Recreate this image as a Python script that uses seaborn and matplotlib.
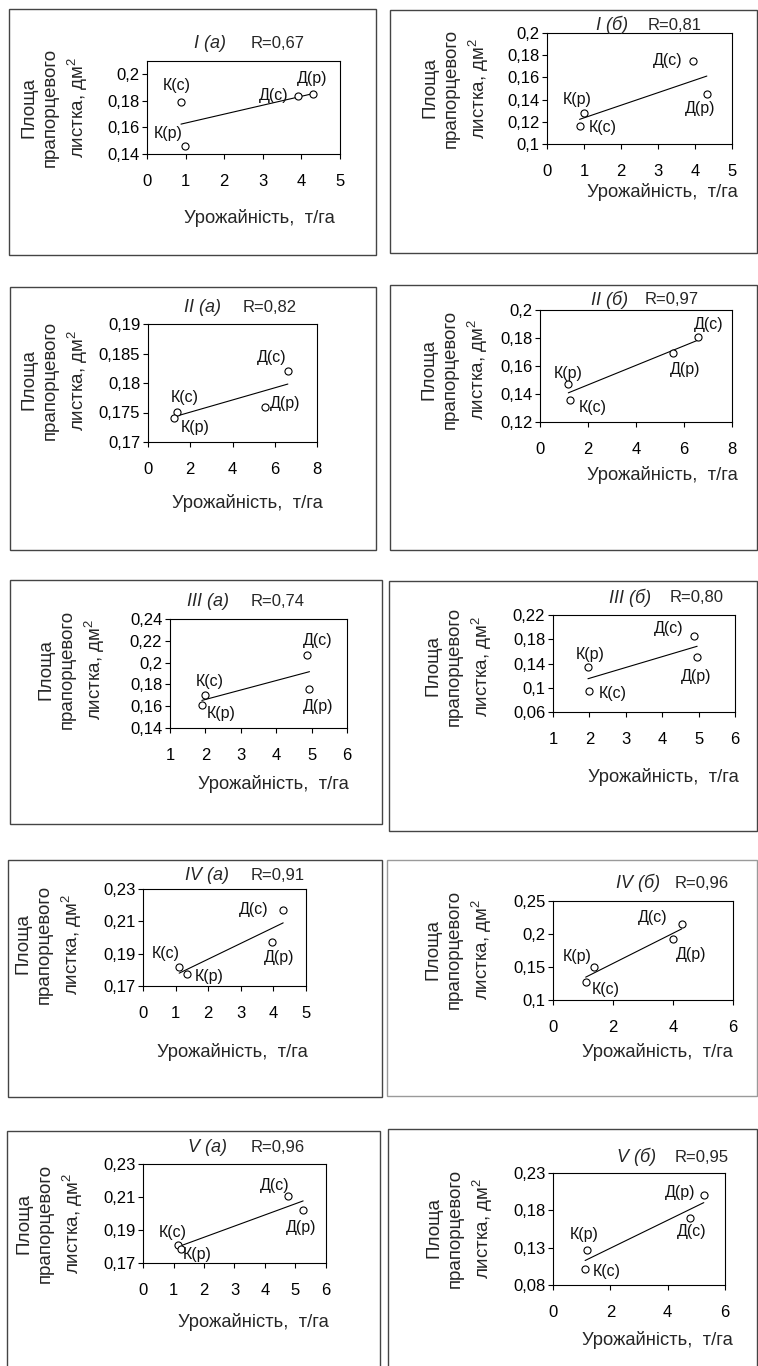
import numpy as np
import pandas as pd
import matplotlib
matplotlib.use("Agg")
import matplotlib.pyplot as plt
import seaborn as sns
from matplotlib.patches import Rectangle

# ---------------- data ----------------
point_labels = ["К(с)", "К(р)", "Д(с)", "Д(р)"]

panel_titles = ["I (а)", "I (б)", "II (а)", "II (б)", "III (а)",
                "III (б)", "IV (а)", "IV (б)", "V (а)", "V (б)"]
r_texts = ["R=0,67", "R=0,81", "R=0,82", "R=0,97", "R=0,74",
           "R=0,80", "R=0,91", "R=0,96", "R=0,96", "R=0,95"]

# yield (t/ha) and flag-leaf area (dm^2), order: К(с), К(р), Д(с), Д(р)
I_a_yield = [0.88, 0.98, 3.90, 4.29]
I_a_area = [0.179, 0.146, 0.184, 0.1848]
I_b_yield = [0.88, 1.00, 3.95, 4.32]
I_b_area = [0.116, 0.128, 0.175, 0.145]
II_a_yield = [1.35, 1.22, 6.62, 5.56]
II_a_area = [0.1751, 0.1741, 0.182, 0.1760]
II_b_yield = [1.25, 1.18, 6.60, 5.55]
II_b_area = [0.1355, 0.147, 0.1805, 0.169]
III_a_yield = [1.98, 1.90, 4.86, 4.94]
III_a_area = [0.170, 0.161, 0.207, 0.176]
III_b_yield = [1.99, 1.96, 4.87, 4.96]
III_b_area = [0.095, 0.1345, 0.185, 0.151]
IV_a_yield = [1.11, 1.36, 4.30, 3.97]
IV_a_area = [0.1815, 0.1775, 0.2172, 0.197]
IV_b_yield = [1.09, 1.36, 4.29, 3.99]
IV_b_area = [0.127, 0.150, 0.215, 0.192]
V_a_yield = [1.15, 1.24, 4.76, 5.25]
V_a_area = [0.181, 0.1785, 0.2104, 0.2023]
V_b_yield = [1.12, 1.17, 4.77, 5.26]
V_b_area = [0.101, 0.127, 0.170, 0.200]

yields = [I_a_yield, I_b_yield, II_a_yield, II_b_yield, III_a_yield,
          III_b_yield, IV_a_yield, IV_b_yield, V_a_yield, V_b_yield]
areas = [I_a_area, I_b_area, II_a_area, II_b_area, III_a_area,
         III_b_area, IV_a_area, IV_b_area, V_a_area, V_b_area]

# axis ticks (tick labels)
x_ticks = [[0, 1, 2, 3, 4, 5], [0, 1, 2, 3, 4, 5], [0, 2, 4, 6, 8], [0, 2, 4, 6, 8],
           [1, 2, 3, 4, 5, 6], [1, 2, 3, 4, 5, 6], [0, 1, 2, 3, 4, 5], [0, 2, 4, 6],
           [0, 1, 2, 3, 4, 5, 6], [0, 2, 4, 6]]
y_ticks = [[0.14, 0.16, 0.18, 0.2], [0.1, 0.12, 0.14, 0.16, 0.18, 0.2],
           [0.17, 0.175, 0.18, 0.185, 0.19], [0.12, 0.14, 0.16, 0.18, 0.2],
           [0.14, 0.16, 0.18, 0.2, 0.22, 0.24], [0.06, 0.1, 0.14, 0.18, 0.22],
           [0.17, 0.19, 0.21, 0.23], [0.1, 0.15, 0.2, 0.25],
           [0.17, 0.19, 0.21, 0.23], [0.08, 0.13, 0.18, 0.23]]
y_top = [0.21, 0.2, 0.19, 0.2, 0.24, 0.22, 0.23, 0.25, 0.23, 0.23]

x_label = "Урожайність,  т/га"
y_label = "Площа\nпрапорцевого\nлистка, дм$^2$"

# ---------------- layout (pixels) ----------------
W, H = 758, 1366
axes_px = [(147, 61, 340, 154), (547, 33, 732, 144), (148, 324, 317, 442), (540, 310, 732, 422),
           (170, 619, 347, 728), (553, 615, 735, 712), (143, 889, 306, 986), (553, 901, 733, 1000),
           (143, 1164, 326, 1263), (553, 1173, 725, 1285)]
frame_px = [(9, 9, 376, 255), (390, 10, 757, 253), (10, 287, 376, 550), (390, 285, 757, 550),
            (10, 580, 382, 824), (389, 581, 757, 831), (8, 860, 382, 1097), (387, 860, 757, 1096),
            (7, 1131, 380, 1372), (388, 1129, 757, 1372)]
frame_col = ["#444444"] * 7 + ["#9a9a9a"] + ["#444444"] * 2
title_px = [(210, 43), (612, 25), (203, 307), (610, 300), (208, 602),
            (630, 598), (207, 875), (638, 883), (207, 1147), (637, 1157)]
r_px = [(278, 43), (675, 25), (270, 307), (672, 300), (278, 602),
        (697, 598), (278, 875), (702, 883), (278, 1147), (702, 1157)]
xlab_px = [(259, 218), (662, 192), (247, 503), (662, 475), (273, 784),
           (663, 777), (232, 1052), (657, 1052), (253, 1322), (657, 1340)]
ylab_px = [(55, 107), (456, 88), (55, 380), (455, 369), (72, 669),
           (459, 666), (49, 944), (459, 949), (50, 1223), (460, 1228)]
# label offsets (px, y downward), order К(с), К(р), Д(с), Д(р)
offs = [[(-4, -17), (-17, -13), (-24, 0), (0, -16)],
        [(23, 1), (-7, -13), (-25, 0), (-7, 14)],
        [(8, -14), (21, 10), (-16, -14), (20, -3)],
        [(23, 7), (0, -11), (10, -13), (12, 16)],
        [(5, -14), (19, 8), (11, -14), (9, 18)],
        [(24, 3), (2, -12), (-25, -8), (-1, 20)],
        [(-13, -14), (22, 3), (-29, 0), (7, 15)],
        [(20, 7), (-17, -10), (-29, -7), (18, 15)],
        [(-5, -12), (16, 6), (-13, -11), (-2, 18)],
        [(22, 2), (-2, -15), (2, 14), (-24, -3)]]

TICK_FS = 12
PT_FS = 11.5
YLAB_FS = 13.5
YLAB_LS = 1.38
XLAB_FS = 13.2
TITLE_FS = 13
R_FS = 12

sns.set_theme(style="white")
plt.rcParams["font.family"] = ["Liberation Sans", "DejaVu Sans"]
plt.rcParams["mathtext.fontset"] = "custom"
plt.rcParams["mathtext.rm"] = "Liberation Sans"
plt.rcParams["mathtext.it"] = "Liberation Sans:italic"

fig = plt.figure(figsize=(W / 100, H / 100), dpi=100)
fig.patch.set_facecolor("white")


def fmt(v):
    return ("%g" % v).replace(".", ",")


for i in range(10):
    l, t, r, b = axes_px[i]
    ax = fig.add_axes([l / W, 1 - b / H, (r - l) / W, (b - t) / H])
    df = pd.DataFrame({"yield": yields[i], "area": areas[i], "lab": point_labels})
    sns.regplot(data=df, x="yield", y="area", scatter=False, ci=None, truncate=True,
                color="black", line_kws={"lw": 0.8}, ax=ax)
    sns.scatterplot(data=df, x="yield", y="area", marker="o", s=26, facecolor="white",
                    edgecolor="black", linewidth=0.8, zorder=3, ax=ax)
    for j, lab in enumerate(point_labels):
        dx, dy = offs[i][j]
        ax.annotate(lab, (yields[i][j], areas[i][j]), xytext=(dx, -dy),
                    textcoords="offset pixels", ha="center", va="center",
                    fontsize=PT_FS, color="#111111")
    xt = x_ticks[i]
    yt = y_ticks[i]
    ax.set_xlim(xt[0], xt[-1])
    ax.set_ylim(yt[0], y_top[i])
    ax.set_xticks(xt)
    ax.set_xticklabels([fmt(v) for v in xt])
    ax.set_yticks(yt)
    ax.set_yticklabels([fmt(v) for v in yt])
    ax.tick_params(axis="x", direction="out", length=3.5, width=0.8, pad=11,
                   labelsize=TICK_FS, colors="black", bottom=True)
    ax.tick_params(axis="y", direction="out", length=3.5, width=0.8, pad=2,
                   labelsize=TICK_FS, colors="black", left=True)
    for sp in ax.spines.values():
        sp.set_color("black")
        sp.set_linewidth(0.8)
    ax.set_facecolor("white")
    ax.grid(False)
    # axis labels
    ax.set_xlabel(x_label, fontsize=XLAB_FS, va="center", ha="center")
    xl, yl = xlab_px[i]
    ax.xaxis.set_label_coords((xl - l) / (r - l), (b - yl) / (b - t))
    ax.set_ylabel(y_label, fontsize=YLAB_FS, va="center", ha="center",
                  multialignment="center", linespacing=YLAB_LS)
    xl, yl = ylab_px[i]
    ax.yaxis.set_label_coords((xl - l) / (r - l), (b - yl) / (b - t))
    # title and R
    tx, ty = title_px[i]
    fig.text(tx / W, 1 - ty / H, panel_titles[i], style="italic", fontsize=TITLE_FS,
             ha="center", va="center")
    rx, ry = r_px[i]
    fig.text(rx / W, 1 - ry / H, r_texts[i], fontsize=R_FS, ha="center", va="center")
    # panel frame
    fl, ft, fr, fb = frame_px[i]
    fig.patches.append(Rectangle((fl / W, 1 - fb / H), (fr - fl) / W, (fb - ft) / H,
                                 transform=fig.transFigure, fill=False,
                                 edgecolor=frame_col[i], lw=1.0, zorder=0))

fig.savefig("out.png", dpi=100)
